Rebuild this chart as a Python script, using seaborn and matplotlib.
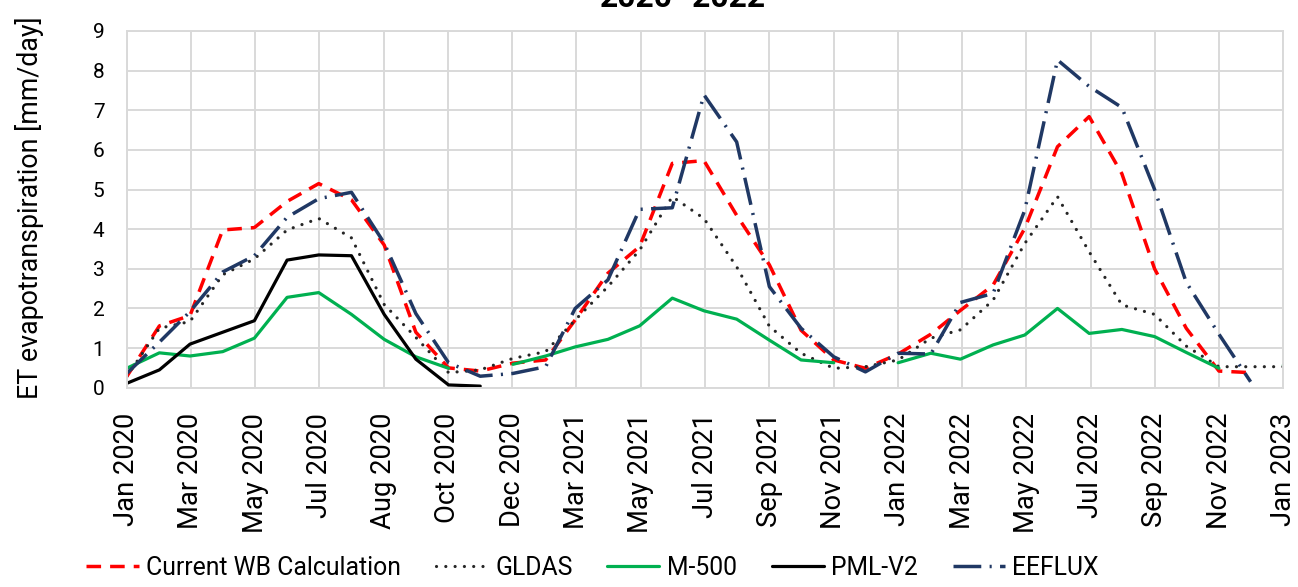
import numpy as np
import pandas as pd
import matplotlib
matplotlib.use("Agg")
import matplotlib.pyplot as plt
import matplotlib.dates as mdates
from matplotlib.lines import Line2D
import seaborn as sns

nan = np.nan

# Monthly time steps (first day of each month)
months = pd.date_range("2020-01-01", periods=38, freq="MS")

tick_labels = ["Jan 2020", "Mar 2020", "May 2020", "Jul 2020", "Aug 2020",
               "Oct 2020", "Dec 2020", "Mar 2021", "May 2021", "Jul 2021",
               "Sep 2021", "Nov 2021", "Jan 2022", "Mar 2022", "May 2022",
               "Jul 2022", "Sep 2022", "Nov 2022", "Jan 2023"]

# ET [mm/day] per source
current_wb = [0.28, 1.56, 1.82, 3.98, 4.04, 4.70, 5.15, 4.74, 3.60, 1.40, 0.50, 0.42,
              0.62, 0.70, 1.71, 2.89, 3.56, 5.66, 5.73, 4.35, 3.10, 1.45, 0.70, 0.49,
              0.85, 1.35, 1.95, 2.59, 4.02, 6.08, 6.84, 5.40, 3.00, 1.50, 0.42, 0.38]
gldas = [0.28, 1.50, 1.67, 2.85, 3.25, 3.98, 4.27, 3.78, 2.10, 1.27, 0.38, 0.45,
         0.74, 0.91, 1.71, 2.55, 3.47, 4.82, 4.27, 3.05, 1.55, 0.87, 0.49, 0.53,
         0.70, 1.25, 1.46, 2.21, 3.64, 4.82, 3.43, 2.09, 1.85, 1.05, 0.53, 0.53, 0.53]
m500 = [0.49, 0.88, 0.80, 0.91, 1.25, 2.28, 2.40, 1.85, 1.22, 0.78, 0.49, nan,
        0.59, 0.80, 1.03, 1.22, 1.56, 2.26, 1.94, 1.73, 1.20, 0.70, 0.63, nan,
        0.63, 0.87, 0.72, 1.08, 1.33, 2.00, 1.37, 1.47, 1.29, 0.89, 0.49, nan,
        0.57, 0.75]
pml_v2 = [0.11, 0.45, 1.10, 1.40, 1.69, 3.22, 3.35, 3.33, 1.85, 0.72, 0.07, 0.04]
eeflux = [0.36, 1.15, 1.92, 2.92, 3.33, 4.30, 4.77, 4.93, 3.65, 1.87, 0.63, 0.29,
          0.36, 0.53, 2.00, 2.72, 4.50, 4.54, 7.39, 6.20, 2.55, 1.50, 0.78, 0.40,
          0.87, 0.85, 2.15, 2.38, 4.48, 8.27, 7.60, 7.07, 5.00, 2.66, 1.35, 0.15]

series_names = ["Current WB Calculation", "GLDAS", "M-500", "PML-V2", "EEFLUX"]
series_values = [current_wb, gldas, m500, pml_v2, eeflux]

styles = {
    "Current WB Calculation": dict(color="#FF0000", lw=2.5, ls=(0, (4.2, 2.6)), cap="butt"),
    "GLDAS": dict(color="#262626", lw=2.3, ls=(0, (0.01, 2.9)), cap="round"),
    "M-500": dict(color="#00B050", lw=2.3, ls="-", cap="butt"),
    "PML-V2": dict(color="#000000", lw=2.3, ls="-", cap="butt"),
    "EEFLUX": dict(color="#203864", lw=2.5, ls=(0, (8, 2.4, 0.6, 2.4)), cap="butt"),
}

# Long table; a new segment starts after every missing value
frames = []
for name, vals in zip(series_names, series_values):
    v = np.asarray(vals, dtype=float)
    seg = np.cumsum(np.isnan(v))
    df = pd.DataFrame({"date": months[:len(v)], "et": v, "source": name, "segment": seg})
    frames.append(df.dropna())
data = pd.concat(frames, ignore_index=True)

sns.set_theme(style="white")
plt.rcParams["font.family"] = ["Roboto", "DejaVu Sans"]
for key in ("text.color", "axes.labelcolor", "xtick.color", "ytick.color"):
    plt.rcParams[key] = "black"

fig = plt.figure(figsize=(12.98, 5.87), dpi=100)
ax = fig.add_axes([0.0976, 0.3395, 0.8911, 0.6077])
renderer = fig.canvas.get_renderer()


def fit_size(text, target_px, **kw):
    t = fig.text(0, 0, text, fontsize=20, **kw)
    w = t.get_window_extent(renderer).width
    t.remove()
    return 20 * target_px / w


for name in series_names:
    st = styles[name]
    sub = data[data["source"] == name]
    sns.lineplot(data=sub, x="date", y="et", units="segment", estimator=None,
                 sort=False, color=st["color"], linewidth=st["lw"],
                 linestyle=st["ls"], dash_capstyle=st["cap"],
                 solid_joinstyle="round", legend=False, ax=ax)

start = mdates.date2num(months[0])
end = mdates.date2num(months[36])
ax.set_xlim(start, end)
ax.set_ylim(0, 9)
ax.set_yticks(range(0, 10))

xt = np.linspace(start, end, len(tick_labels))
tick_fs = fit_size("Jan 2020", 113)
ax.set_xticks(xt)
ax.set_xticklabels(tick_labels, rotation=90, fontsize=tick_fs)
ax.tick_params(axis="x", length=0, pad=18)
ax.tick_params(axis="y", length=0, pad=16, labelsize=15)

ax.grid(True, color="#d9d9d9", linewidth=1.4)
ax.set_axisbelow(True)
for sp in ax.spines.values():
    sp.set_color("#d9d9d9")
    sp.set_linewidth(1.4)

ax.set_xlabel("")
ylab_fs = fit_size("ET evapotranspiration [mm/day]", 382)
ax.set_ylabel("ET evapotranspiration [mm/day]", fontsize=ylab_fs)
ax.yaxis.label.set_va("center")
ax.yaxis.set_label_coords(-0.0836, 0.505)

title_fs = fit_size("2020–2022", 165, fontweight="bold")
fig.text(0.526, 1 - 6.7 / 587, "2020–2022", ha="center", va="baseline",
         fontsize=title_fs, fontweight="bold")

handles = []
for name in series_names:
    st = styles[name]
    h = Line2D([], [], color=st["color"], linewidth=st["lw"], linestyle=st["ls"],
               dash_capstyle=st["cap"])
    handles.append(h)
leg_fs = fit_size("Current WB Calculation", 255)
fig.legend(handles, series_names, loc="center", bbox_to_anchor=(0.4565, 1 - 568 / 587),
           ncol=5, frameon=False, fontsize=leg_fs, handlelength=2.1,
           handletextpad=0.3, columnspacing=1.4)

fig.savefig("out.png", dpi=100)
